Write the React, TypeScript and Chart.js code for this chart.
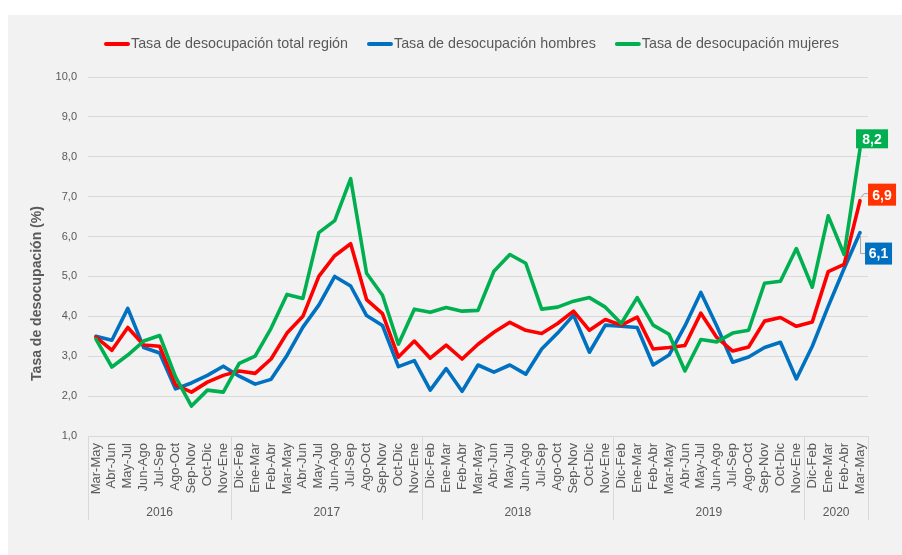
import React, { useEffect, useRef } from 'react';
import { Chart, registerables } from 'chart.js';

Chart.register(...registerables);

const FONT = 'Arial, "Liberation Sans", sans-serif';
const TEXT = '#595959';
const GRID = '#D9D9D9';

const periods = [
  'Mar-May', 'Abr-Jun', 'May-Jul', 'Jun-Ago', 'Jul-Sep', 'Ago-Oct', 'Sep-Nov', 'Oct-Dic', 'Nov-Ene',
  'Dic-Feb', 'Ene-Mar', 'Feb-Abr', 'Mar-May', 'Abr-Jun', 'May-Jul', 'Jun-Ago', 'Jul-Sep', 'Ago-Oct', 'Sep-Nov', 'Oct-Dic', 'Nov-Ene',
  'Dic-Feb', 'Ene-Mar', 'Feb-Abr', 'Mar-May', 'Abr-Jun', 'May-Jul', 'Jun-Ago', 'Jul-Sep', 'Ago-Oct', 'Sep-Nov', 'Oct-Dic', 'Nov-Ene',
  'Dic-Feb', 'Ene-Mar', 'Feb-Abr', 'Mar-May', 'Abr-Jun', 'May-Jul', 'Jun-Ago', 'Jul-Sep', 'Ago-Oct', 'Sep-Nov', 'Oct-Dic', 'Nov-Ene',
  'Dic-Feb', 'Ene-Mar', 'Feb-Abr', 'Mar-May',
];

const yearLabels = ['2016', '2017', '2018', '2019', '2020'];
const yearSpans = [9, 12, 12, 12, 4];

const seriesNames = [
  'Tasa de desocupación total región',
  'Tasa de desocupación hombres',
  'Tasa de desocupación mujeres',
];
const seriesColors = ['#FF0000', '#0070C0', '#00B050'];
const labelBoxColors = ['#FF3300', '#0070C0', '#00B050'];

const totalRegion = [
  3.48, 3.15, 3.72, 3.28, 3.25, 2.28, 2.1, 2.35, 2.52,
  2.63, 2.57, 2.93, 3.58, 4.0, 5.0, 5.52, 5.82, 4.42, 4.07, 2.98, 3.38,
  2.95, 3.28, 2.93, 3.3, 3.6, 3.85, 3.65, 3.57, 3.82, 4.13, 3.65, 3.92,
  3.78, 3.98, 3.18, 3.22, 3.27, 4.08, 3.47, 3.13, 3.23, 3.88, 3.97, 3.75,
  3.86, 5.12, 5.3, 6.9,
];

const hombres = [
  3.5, 3.4, 4.2, 3.22, 3.08, 2.18, 2.33, 2.52, 2.75,
  2.5, 2.3, 2.42, 3.02, 3.73, 4.28, 5.0, 4.76, 4.02, 3.77, 2.74, 2.89,
  2.15, 2.69, 2.12, 2.78, 2.6, 2.78, 2.55, 3.18, 3.58, 4.03, 3.1, 3.78,
  3.75, 3.72, 2.78, 3.03, 3.76, 4.6, 3.76, 2.85, 2.98, 3.22, 3.35, 2.43,
  3.25, 4.25, 5.2, 6.1,
];

const mujeres = [
  3.43, 2.73, 3.03, 3.38, 3.52, 2.48, 1.75, 2.15, 2.1,
  2.82, 3.0, 3.7, 4.55, 4.45, 6.1, 6.4, 7.45, 5.08, 4.53, 3.3, 4.18,
  4.1, 4.22, 4.13, 4.15, 5.13, 5.55, 5.33, 4.18, 4.23, 4.38, 4.47, 4.23,
  3.82, 4.47, 3.78, 3.55, 2.63, 3.42, 3.36, 3.58, 3.65, 4.83, 4.88, 5.7,
  4.73, 6.52, 5.55, 8.2,
];

const yMin = 1;
const yMax = 10;
const yStep = 1;
const yTitle = 'Tasa de desocupación (%)';

const fmt = (v: number) => v.toFixed(1).replace('.', ',');

// label box placement relative to the last point (style only)
const endLabelStyles = [
  { dx: 22, dy: -6, w: 28, h: 22, leader: 'diag' },
  { dx: 18.5, dy: 21, w: 27, h: 22, leader: 'elbow' },
  { dx: 12, dy: -10, w: 32, h: 19, leader: 'none' },
];

const yearAxisPlugin = {
  id: 'yearAxis',
  afterDraw(chart: any) {
    const { ctx, chartArea } = chart;
    const xs = chart.scales.x;
    const n = periods.length;
    const mid = (a: number, b: number) => (xs.getPixelForValue(a) + xs.getPixelForValue(b)) / 2;
    ctx.save();
    ctx.strokeStyle = GRID;
    ctx.lineWidth = 1;
    ctx.fillStyle = TEXT;
    ctx.font = `12px ${FONT}`;
    ctx.textAlign = 'center';
    ctx.textBaseline = 'middle';
    let s = 0;
    yearSpans.forEach((span, g) => {
      const e = s + span;
      const left = s === 0 ? chartArea.left : mid(s - 1, s);
      const right = e === n ? chartArea.right : mid(e - 1, e);
      [left, right].forEach((x) => {
        const xx = Math.round(x) + 0.5;
        ctx.beginPath();
        ctx.moveTo(xx, chartArea.bottom);
        ctx.lineTo(xx, chartArea.bottom + 84);
        ctx.stroke();
      });
      ctx.fillText(yearLabels[g], (left + right) / 2, chartArea.bottom + 77);
      s = e;
    });
    ctx.restore();
  },
};

const legendPlugin = {
  id: 'customLegend',
  afterDraw(chart: any) {
    const { ctx, chartArea } = chart;
    ctx.save();
    ctx.font = `14.3px ${FONT}`;
    ctx.textBaseline = 'middle';
    ctx.textAlign = 'left';
    let x = chartArea.left + 16;
    const y = chartArea.top - 33;
    seriesNames.forEach((name, i) => {
      ctx.strokeStyle = seriesColors[i];
      ctx.lineWidth = 4;
      ctx.lineCap = 'round';
      ctx.beginPath();
      ctx.moveTo(x + 2, y);
      ctx.lineTo(x + 24, y);
      ctx.stroke();
      ctx.fillStyle = TEXT;
      ctx.fillText(name, x + 27, y);
      x += 27 + ctx.measureText(name).width + 19;
    });
    ctx.restore();
  },
};

const yTitlePlugin = {
  id: 'yTitle',
  afterDraw(chart: any) {
    const { ctx, chartArea } = chart;
    ctx.save();
    ctx.translate(chartArea.left - 51, (chartArea.top + chartArea.bottom) / 2 + 37);
    ctx.rotate(-Math.PI / 2);
    ctx.font = `bold 14px ${FONT}`;
    ctx.fillStyle = TEXT;
    ctx.textAlign = 'center';
    ctx.textBaseline = 'middle';
    ctx.fillText(yTitle, 0, 0);
    ctx.restore();
  },
};

const endLabelsPlugin = {
  id: 'endLabels',
  afterDatasetsDraw(chart: any) {
    const { ctx } = chart;
    ctx.save();
    chart.data.datasets.forEach((ds: any, i: number) => {
      const meta = chart.getDatasetMeta(i);
      const last = ds.data.length - 1;
      const pt = meta.data[last];
      const st = endLabelStyles[i];
      const cx = pt.x + st.dx;
      const cy = pt.y + st.dy;
      const bl = cx - st.w / 2;
      ctx.strokeStyle = '#A6A6A6';
      ctx.lineWidth = 1;
      if (st.leader === 'elbow') {
        ctx.beginPath();
        ctx.moveTo(pt.x + 0.5, pt.y + 2);
        ctx.lineTo(pt.x + 0.5, cy);
        ctx.lineTo(bl, cy);
        ctx.stroke();
      } else if (st.leader === 'diag') {
        ctx.beginPath();
        ctx.moveTo(pt.x + 1, pt.y - 3);
        ctx.lineTo(pt.x + 4, pt.y - 7);
        ctx.lineTo(bl, pt.y - 7);
        ctx.stroke();
      }
      ctx.fillStyle = labelBoxColors[i];
      ctx.fillRect(bl, cy - st.h / 2, st.w, st.h);
      ctx.fillStyle = '#FFFFFF';
      ctx.font = `bold 14px ${FONT}`;
      ctx.textAlign = 'center';
      ctx.textBaseline = 'middle';
      ctx.fillText(fmt(ds.data[last]), cx, cy + 1);
    });
    ctx.restore();
  },
};

export default function App() {
  const ref = useRef<HTMLCanvasElement>(null);

  useEffect(() => {
    if (!ref.current) return;
    const seriesData = [totalRegion, hombres, mujeres];
    const drawOrder = [1, 2, 0];
    const chart = new Chart(ref.current, {
      type: 'line',
      data: {
        labels: periods,
        datasets: seriesData.map((d, i) => ({
          label: seriesNames[i],
          data: d,
          borderColor: seriesColors[i],
          backgroundColor: seriesColors[i],
          borderWidth: 3.6,
          pointRadius: 0,
          pointHoverRadius: 0,
          tension: 0,
          fill: false,
          borderJoinStyle: 'round' as const,
          borderCapStyle: 'round' as const,
          order: drawOrder[i],
        })),
      },
      options: {
        responsive: false,
        animation: false,
        devicePixelRatio: 1,
        layout: { padding: { top: 62, right: 34, left: 0, bottom: 0 } },
        plugins: {
          legend: { display: false },
          tooltip: { enabled: false },
          title: { display: false },
        },
        scales: {
          x: {
            type: 'category',
            offset: true,
            grid: { display: false, drawTicks: false },
            border: { display: false },
            ticks: {
              autoSkip: false,
              maxRotation: 90,
              minRotation: 90,
              padding: 7,
              color: TEXT,
              font: { family: FONT, size: 13 },
            },
            afterFit(scale: any) {
              scale.height = 119;
            },
          },
          y: {
            min: yMin,
            max: yMax,
            grid: { color: GRID, lineWidth: 1, drawTicks: false },
            border: { display: false },
            ticks: {
              stepSize: yStep,
              padding: 11,
              color: TEXT,
              font: { family: FONT, size: 11 },
              callback: (v: any) => fmt(Number(v)),
            },
            afterFit(scale: any) {
              scale.width = 80;
            },
          },
        },
      },
      plugins: [yearAxisPlugin, legendPlugin, yTitlePlugin, endLabelsPlugin],
    });
    return () => chart.destroy();
  }, []);

  return (
    <div style={{ position: 'absolute', left: 0, top: 0, width: 902, height: 555, background: '#FFFFFF', overflow: 'hidden' }}>
      <div style={{ position: 'absolute', left: 8, top: 15, width: 894, height: 540, background: '#F2F2F2' }}>
        <canvas ref={ref} width={894} height={540} style={{ display: 'block', width: 894, height: 540 }} />
      </div>
    </div>
  );
}
